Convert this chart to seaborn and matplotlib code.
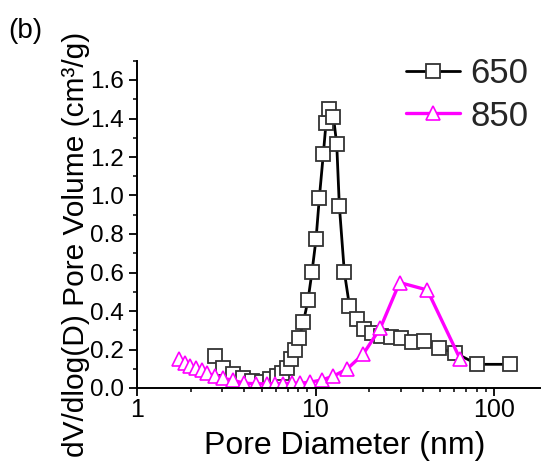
import matplotlib
matplotlib.use("Agg")
import matplotlib.pyplot as plt
import seaborn as sns
import numpy as np
from matplotlib.ticker import MultipleLocator, LogLocator, NullFormatter, FixedLocator, FixedFormatter

# BJH pore size distributions for samples calcined at 650 and 850
d650 = [2.75, 3.05, 3.46, 3.91, 4.4, 5.0, 5.56, 6.07, 6.47, 6.9, 7.27, 7.68, 8.08,
        8.55, 9.08, 9.56, 10.07, 10.5, 11.06, 11.45, 11.9, 12.6, 13.15, 13.6, 14.5,
        15.5, 17.0, 18.7, 20.6, 23.2, 26.4, 30.0, 34.7, 40.7, 49.4, 60.4, 80.7, 123.0]
v650 = [0.166, 0.105, 0.074, 0.05, 0.037, 0.033, 0.045, 0.06, 0.08, 0.105, 0.15, 0.197, 0.258,
        0.341, 0.457, 0.604, 0.774, 0.985, 1.215, 1.375, 1.449, 1.41, 1.266, 0.947, 0.604,
        0.426, 0.357, 0.306, 0.284, 0.272, 0.263, 0.26, 0.237, 0.246, 0.206, 0.183, 0.123, 0.123]

d850 = [1.73, 1.86, 1.98, 2.14, 2.30, 2.48, 2.73, 3.05, 3.46, 3.97, 4.63, 5.33, 5.93,
        6.6, 7.36, 8.2, 9.3, 10.9, 12.6, 15.0, 18.5, 23.1, 29.6, 42.3, 64.5]
v850 = [0.149, 0.128, 0.115, 0.102, 0.093, 0.078, 0.062, 0.05, 0.04, 0.025, 0.022, 0.022, 0.022,
        0.022, 0.025, 0.025, 0.03, 0.042, 0.062, 0.098, 0.176, 0.312, 0.548, 0.509, 0.152]

labels = ["650", "850"]
colors = ["#000000", "#FF00FF"]
x_ticks = [1, 10, 100]
x_tick_labels = ["1", "10", "100"]

sns.set_theme(style="ticks")
plt.rcParams["font.family"] = ["Liberation Sans", "DejaVu Sans"]

fig = plt.figure(figsize=(5.45, 4.66), dpi=100)
ax = fig.add_axes([137 / 545, 78 / 466, 403 / 545, (388 - 60.75) / 466])

sns.lineplot(x=d650, y=v650, ax=ax, color=colors[0], lw=2.0, marker="s", markersize=9.8,
             markerfacecolor="white", markeredgecolor="#333333", markeredgewidth=1.3,
             label=labels[0], sort=False)
sns.lineplot(x=d850, y=v850, ax=ax, color=colors[1], lw=2.4, marker="^", markersize=10.5,
             markerfacecolor="white", markeredgecolor=colors[1], markeredgewidth=1.2,
             label=labels[1], sort=False)

ax.set_xscale("log")
ax.set_xlim(1, 181)
ax.set_ylim(0, 1.7)

ax.yaxis.set_major_locator(MultipleLocator(0.2))
ax.yaxis.set_minor_locator(MultipleLocator(0.1))
ax.yaxis.set_major_formatter(matplotlib.ticker.FormatStrFormatter("%.1f"))
ax.xaxis.set_major_locator(FixedLocator(x_ticks))
ax.xaxis.set_major_formatter(FixedFormatter(x_tick_labels))
ax.xaxis.set_minor_locator(LogLocator(base=10, subs=np.arange(2, 10)))
ax.xaxis.set_minor_formatter(NullFormatter())

for s in ["top", "right"]:
    ax.spines[s].set_visible(False)
for s in ["left", "bottom"]:
    ax.spines[s].set_linewidth(1.4)
    ax.spines[s].set_color("black")

ax.tick_params(axis="y", which="major", direction="out", length=6, width=1.3,
               labelsize=17.5, colors="black", pad=3.5)
ax.tick_params(axis="x", which="major", direction="out", length=5.5, width=1.3,
               labelsize=18, colors="black", pad=2)
ax.tick_params(axis="both", which="minor", direction="out", length=3, width=1.1, colors="black")

ax.set_xlabel("")
ax.set_ylabel("")
fig.text(345 / 545, 1 - 454 / 466, "Pore Diameter (nm)", fontsize=23,
         ha="center", va="baseline", color="black")
fig.text(84 / 545, 1 - 244 / 466, "dV/dlog(D) Pore Volume (cm³/g)", fontsize=21.5,
         rotation=90, rotation_mode="anchor", ha="center", va="baseline", color="black")

leg = ax.legend(loc="upper right", bbox_to_anchor=(549 / 545, 1 - 36 / 466),
                bbox_transform=fig.transFigure, frameon=False, fontsize=25,
                handlelength=1.55, handletextpad=0.3, labelspacing=0.28, borderpad=0.1)

fig.text(8 / 545, 1 - 38 / 466, "(b)", fontsize=20, color="black", va="baseline")

fig.savefig("out.png", dpi=100, facecolor="white")
